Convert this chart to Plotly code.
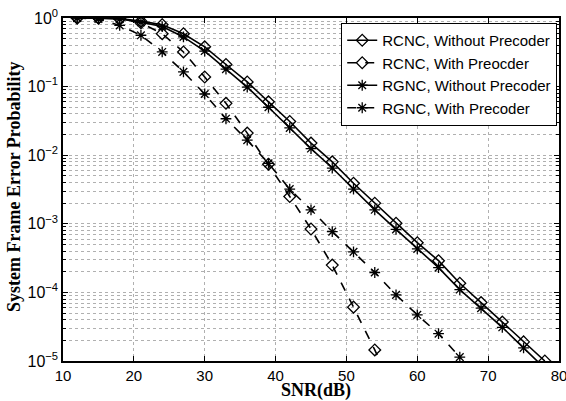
import plotly.graph_objects as go

snr = [12, 15, 18, 21, 24, 27, 30, 33, 36, 39, 42, 45, 48, 51, 54, 57, 60, 63, 66, 69, 72, 75, 78]

rcnc_without = [1.0, 1.0, 0.98, 0.9, 0.8, 0.59, 0.38, 0.21, 0.117, 0.060, 0.031, 0.015,
                0.008, 0.0039, 0.002, 1.02e-3, 5.3e-4, 2.9e-4, 1.36e-4, 7.1e-5, 3.7e-5, 1.9e-5, 1.0e-5]
rgnc_without = [1.0, 1.0, 0.97, 0.87, 0.75, 0.53, 0.33, 0.18, 0.098, 0.050, 0.025, 0.0125,
                0.0065, 0.0032, 0.0016, 8.3e-4, 4.3e-4, 2.3e-4, 1.1e-4, 5.9e-5, 3.1e-5, 1.55e-5, 7.8e-6]

snr_rcnc_with = [12, 15, 18, 21, 24, 27, 30, 33, 36, 39, 42, 45, 48, 51, 54, 57]
rcnc_with = [1.0, 1.0, 0.97, 0.85, 0.59, 0.32, 0.138, 0.057, 0.021, 0.0074, 0.0025, 8.4e-4,
             2.5e-4, 6.1e-5, 1.45e-5, 3.0e-6]

snr_rgnc_with = [12, 15, 18, 21, 24, 27, 30, 33, 36, 39, 42, 45, 48, 51, 54, 57, 60, 63, 66]
rgnc_with = [1.0, 0.97, 0.78, 0.56, 0.32, 0.164, 0.078, 0.034, 0.0166, 0.0076, 0.0032, 0.0016,
             7.7e-4, 3.9e-4, 1.95e-4, 9.2e-5, 4.7e-5, 2.5e-5, 1.14e-5]

names = ["RCNC, Without Precoder", "RCNC, With Preocder",
         "RGNC, Without Precoder", "RGNC, With Precoder"]

y_tickvals = [1, 1e-1, 1e-2, 1e-3, 1e-4, 1e-5]
y_ticktext = ["10<sup>0</sup>", "10<sup>−1</sup>", "10<sup>−2</sup>",
              "10<sup>−3</sup>", "10<sup>−4</sup>", "10<sup>−5</sup>"]
x_tickvals = [10, 20, 30, 40, 50, 60, 70, 80]

x_title = "SNR(dB)"
y_title = "System Frame Error Probability"

fig = go.Figure()

def add(x, y, name, dash, symbol):
    fig.add_trace(go.Scatter(
        x=x, y=y, name=name, mode="lines+markers",
        line=dict(color="black", width=1.6, dash=dash),
        marker=dict(symbol=symbol, size=9, color="black",
                    line=dict(color="black", width=1.3)),
    ))

add(snr, rcnc_without, names[0], "solid", "diamond-open")
add(snr_rcnc_with, rcnc_with, names[1], "dash", "diamond-open")
add(snr, rgnc_without, names[2], "solid", "asterisk-open")
add(snr_rgnc_with, rgnc_with, names[3], "dash", "asterisk-open")

grid = dict(showgrid=True, gridcolor="#b0b0b0", gridwidth=1, griddash="dot")
serif = "Liberation Serif, Times New Roman, serif"

fig.update_layout(
    width=566, height=401,
    margin=dict(l=63, r=7, t=18, b=40),
    paper_bgcolor="white", plot_bgcolor="white",
    font=dict(family="Liberation Sans, Arial, sans-serif", size=15, color="black"),
    showlegend=True,
    legend=dict(x=0.996, y=0.986, xanchor="right", yanchor="top",
                bgcolor="white", bordercolor="black", borderwidth=1.2,
                font=dict(size=15, family="Liberation Sans, Arial, sans-serif"),
                tracegroupgap=0, itemwidth=30),
    annotations=[
        dict(text="<b>" + x_title + "</b>", xref="paper", yref="paper",
             x=0.51, y=-0.087, xanchor="center", yanchor="middle", showarrow=False,
             font=dict(family=serif, size=18)),
        dict(text="<b>" + y_title + "</b>", xref="paper", yref="paper",
             x=-0.099, y=0.507, xanchor="center", yanchor="middle", showarrow=False,
             textangle=-90, font=dict(family=serif, size=18)),
    ],
)

fig.update_xaxes(
    range=[10, 80], tickvals=x_tickvals, automargin=False, ticklabeloverflow="allow",
    showline=True, linecolor="black", linewidth=1.5, mirror="ticks",
    ticks="inside", ticklen=5, tickcolor="black",
    zeroline=False, **grid,
)

fig.update_yaxes(
    type="log", range=[-5, 0], tickvals=y_tickvals, ticktext=y_ticktext, automargin=False,
    ticklabeloverflow="allow", tickfont=dict(size=16),
    showline=True, linecolor="black", linewidth=1.5, mirror="ticks",
    ticks="inside", ticklen=5, tickcolor="black",
    minor=dict(showgrid=True, gridcolor="#b0b0b0", griddash="dot", gridwidth=1,
               ticks="inside", ticklen=3, tickcolor="black", dtick="D1"),
    zeroline=False, **grid,
)

fig.write_html(
    "out.html",
    config={"displayModeBar": False},
    post_script="document.body.style.margin='0';document.body.style.padding='0';"
                "document.body.style.overflow='hidden';",
)
